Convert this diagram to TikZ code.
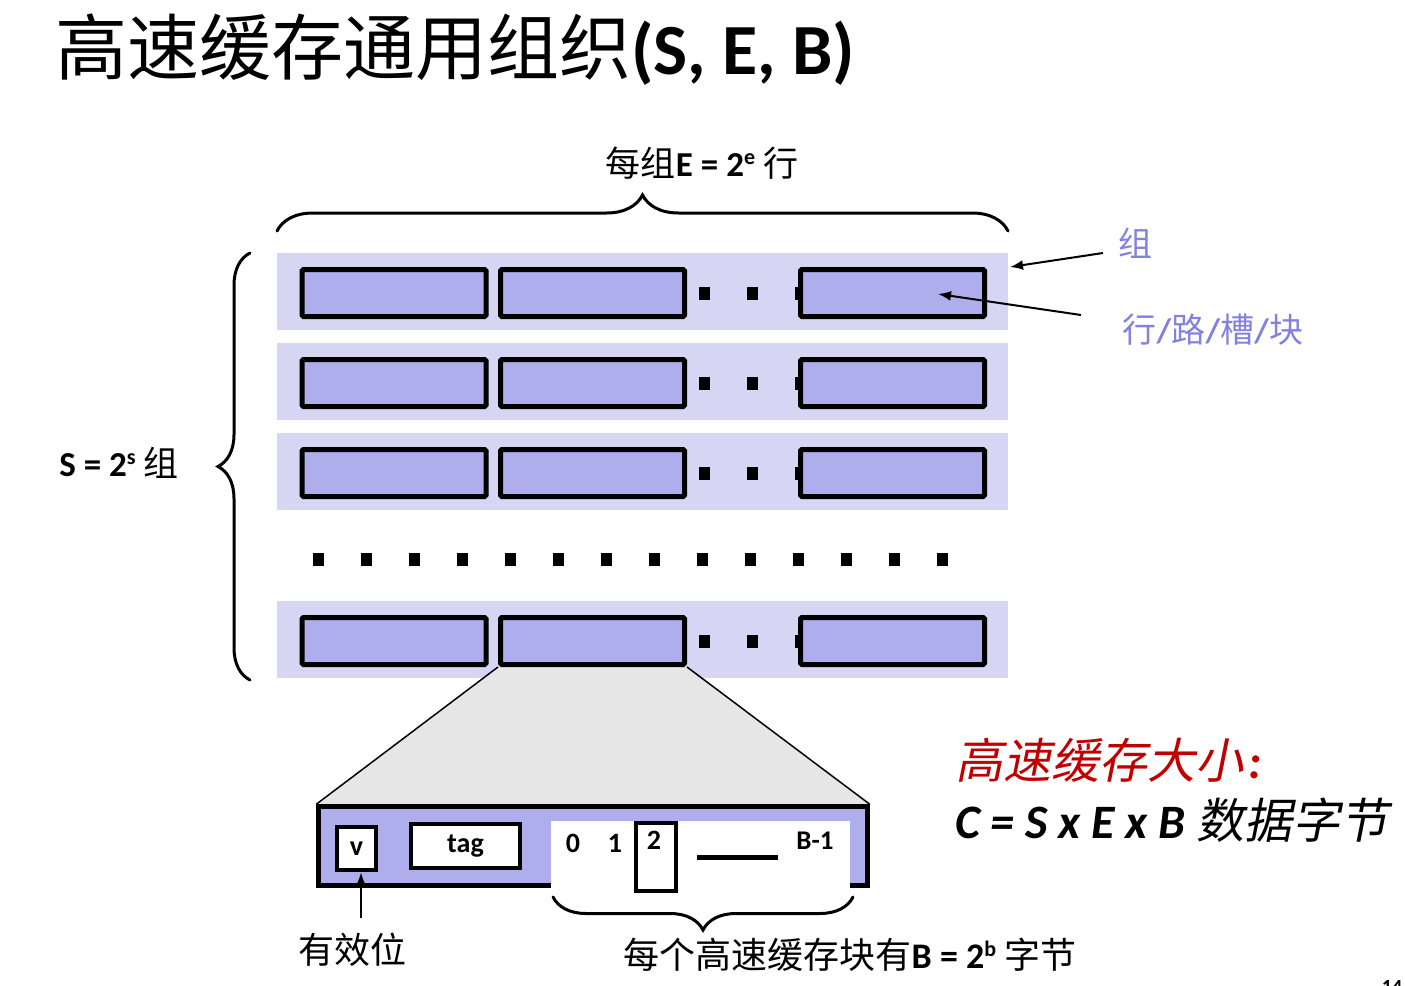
\documentclass[tikz,border=0pt]{standalone}
\usepackage{fontspec}
\setmainfont{Carlito}
\newfontfamily\cjk{Noto Sans CJK SC}
\newfontfamily\cjkit[FakeSlant=0.2]{Noto Sans CJK SC}
\usetikzlibrary{decorations.pathreplacing,arrows.meta}
\definecolor{setbg}{HTML}{D6D6F4}
\definecolor{linefill}{HTML}{AEAEEC}
\definecolor{lblue}{HTML}{8282DE}
\definecolor{trapc}{HTML}{E6E6E6}
\definecolor{cred}{HTML}{C00000}
\newcommand\fs[1]{\fontsize{#1}{#1}\selectfont}
\newcommand\supx[3]{\raisebox{#1}{\fs{#2}#3}}
\pgfdeclarelayer{back}
\pgfdeclarelayer{mid}
\pgfsetlayers{back,mid,main}
\begin{document}
\begin{tikzpicture}[x=1pt,y=-1pt,
 setrow/.style={fill=setbg, minimum width=731, minimum height=77, inner sep=0, draw=none},
 linebox/.style={draw, line width=5, fill=linefill, rounded corners=1.5, minimum width=184, minimum height=47, inner sep=0},
 dotsq/.style={fill=black, minimum width=11, minimum height=13, inner sep=0},
 whitebox/.style={draw, line width=4.5, fill=white, inner sep=0},
 txt/.style={inner sep=0, outer sep=0},
 brc/.style={decorate, line width=3, line cap=round},
 arr/.style={line width=2, -{Latex[length=13,width=10]}}
]
\useasboundingbox (0,0) rectangle (1405,985);

% title
\node[txt, anchor=base west] (title) at (55,74) {\fs{72}{\cjk 高速缓存通用组织}\textbf{(S, E, B)}};

% sets
\begin{pgfonlayer}{back}
\foreach \r/\y in {1/291.5,2/381.5,3/471.5,4/639.5}{
  \node[setrow] (set\r) at (642.5,\y) {};
}
\end{pgfonlayer}
\foreach \r/\y in {1/293,2/383,3/473,4/641}{
  \node[dotsq] (d\r a) at (704,\y) {};
  \node[dotsq] (d\r b) at (752,\y) {};
  \node[dotsq] (d\r c) at (800,\y) {};
  \node[linebox] (l\r a) at (394,\y) {};
  \node[linebox] (l\r b) at (592.5,\y) {};
  \node[linebox] (l\r c) at (892.5,\y) {};
}
\foreach \i in {0,...,13}{
  \node[dotsq] (dr\i) at ({318+48*\i},559) {};
}

% braces and labels
\draw[brc, decoration={brace, amplitude=36}] (277,231) -- (1008,231);
\node[txt, anchor=base] (elab) at (702,176) {\fs{35}{\cjk 每组}\textbf{E = 2\supx{12pt}{22}{e}} {\cjk 行}};
\draw[brc, decoration={brace, amplitude=32}] (250,680) -- (250,253);
\node[txt, anchor=base] (slab) at (119,476) {\fs{35}\textbf{S = 2\supx{12pt}{22}{s}} {\cjk 组}};

% right labels
\node[txt, text=lblue] (zu) at (1135,243) {\fs{34}\cjk 组};
\coordinate (zt) at (1103,253);
\coordinate (zh) at (1010,267);
\draw[arr] (zt) -- (zh);
\node[txt, text=lblue] (hl) at (1213,330) {\fs{34}{\cjk 行}\textbf{/}{\cjk 路}\textbf{/}{\cjk 槽}\textbf{/}{\cjk 块}};
\coordinate (ht) at (1081,315);
\coordinate (hh) at (938,294);
\draw[arr] (ht) -- (hh);

% block detail
\node[draw, line width=4.5, fill=linefill, minimum width=549, minimum height=79, inner sep=0] (blk) at (593,846) {};
\begin{pgfonlayer}{mid}
\fill[trapc] (l4b.south west) -- (l4b.south east) -- (blk.north east) -- (blk.north west) -- cycle;
\draw[line width=1.5] (l4b.south west) -- (blk.north west);
\draw[line width=1.5] (l4b.south east) -- (blk.north east);
\end{pgfonlayer}
\node[fill=white, minimum width=299, minimum height=80, inner sep=0] (bw) at (700.5,861) {};
\node[whitebox, minimum width=39, minimum height=43] (vb) at (356.5,848.5) {\fs{28}\textbf{v}};
\node[whitebox, minimum width=109, minimum height=44] (tb) at (465.5,846) {\fs{28}\textbf{tag}};
\node[txt] (b0) at (573,843) {\fs{28}\textbf{0}};
\node[txt] (b1) at (615,843) {\fs{28}\textbf{1}};
\node[draw, line width=3.5, fill=white, minimum width=40, minimum height=68, inner sep=0] (b2box) at (656,857) {};
\node[txt] (b2) at (654,840) {\fs{28}\textbf{2}};
\coordinate (dl1) at (697,857);
\coordinate (dl2) at (778,857);
\draw[line width=5] (dl1) -- (dl2);
\node[txt] (bB) at (815,841) {\fs{27}\textbf{B-1}};

\coordinate (vtail) at (361,918);
\draw[arr] (vtail) -- (vtail |- vb.south);
\node[txt] (valid) at (352,950) {\fs{36}\cjk 有效位};

\draw[brc, decoration={brace, amplitude=33}] (853,897) -- (553,897);
\node[txt, anchor=base] (blab) at (850,968) {\fs{36}{\cjk 每个高速缓存块有}\textbf{B = 2\supx{12pt}{22}{b}} {\cjk 字节}};

% cache size
\node[txt, anchor=base west, text=cred] (cs1) at (955,778) {\fs{48}{\cjkit 高速缓存大小}\hspace{5pt}\textbf{\textit{:}}};
\node[txt, anchor=base west] (cs2) at (955,838) {\fs{48}\textbf{\textit{C = S x E x B}} {\cjkit 数据字节}};

\node[txt, anchor=base] (pg) at (1392,993) {\fs{20}\textbf{14}};
\end{tikzpicture}
\end{document}
